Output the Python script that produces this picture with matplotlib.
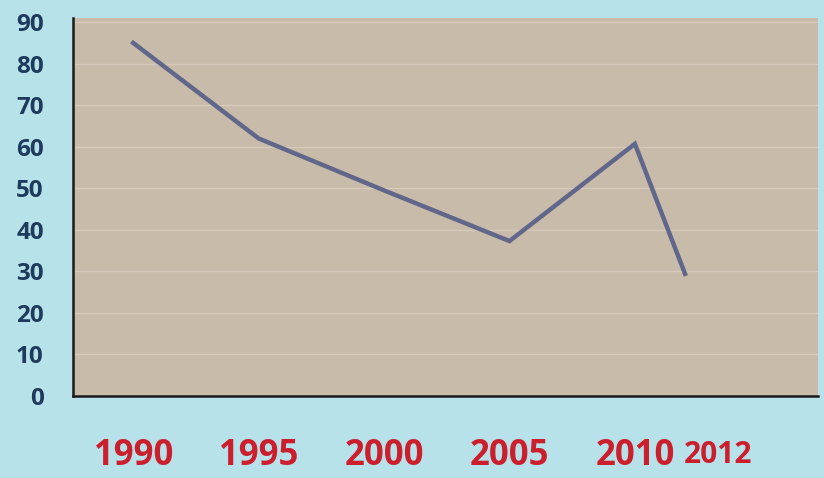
import matplotlib
matplotlib.use("Agg")
import matplotlib.pyplot as plt
import matplotlib.transforms as mtransforms

years = [1990, 1995, 2000, 2005, 2010, 2012]
values = [85, 62, 49.5, 37.3, 60.7, 29.4]
y_ticks = [0, 10, 20, 30, 40, 50, 60, 70, 80, 90]
x_labels = ["1990", "1995", "2000", "2005", "2010", "2012"]

W, H = 824, 478
fig = plt.figure(figsize=(W / 100, H / 100), dpi=100)
fig.patch.set_facecolor("#b8e2e9")

left, right, top, bottom = 73, 818, 18, 396
ax = fig.add_axes([left / W, 1 - bottom / H, (right - left) / W, (bottom - top) / H])
ax.set_facecolor("#c8bba9")

ax.set_xlim(1987.6, 2017.3)
ax.set_ylim(0, 91)

ax.set_yticks(y_ticks)
ax.yaxis.grid(True, color="#d4c9bb", linewidth=1.0)
ax.set_axisbelow(True)

ax.plot(years, values, color="#60678a", linewidth=3.2, solid_joinstyle="miter")

for s in ["top", "right"]:
    ax.spines[s].set_visible(False)
ax.spines["left"].set_color("#1a1a1a")
ax.spines["left"].set_linewidth(1.8)
ax.spines["bottom"].set_color("#1a1a1a")
ax.spines["bottom"].set_linewidth(1.8)

ax.tick_params(axis="both", length=0)
ax.set_yticklabels([str(v) for v in y_ticks], fontfamily="Open Sans",
                   fontweight="bold", fontsize=17.5, color="#1e3a5c")
ax.tick_params(axis="y", pad=21)

ax.set_xticks(years)
ax.set_xticklabels(x_labels, fontfamily="Open Sans", fontweight="bold",
                   fontsize=25, color="#cc1f2e")
ax.tick_params(axis="x", pad=30)
lbls = ax.get_xticklabels()
last = lbls[-1]
last.set_fontsize(21.5)
last.set_transform(last.get_transform() + mtransforms.ScaledTranslation(33 / 100, -2 / 100, fig.dpi_scale_trans))

fig.savefig("out.png", dpi=100, facecolor=fig.get_facecolor())
